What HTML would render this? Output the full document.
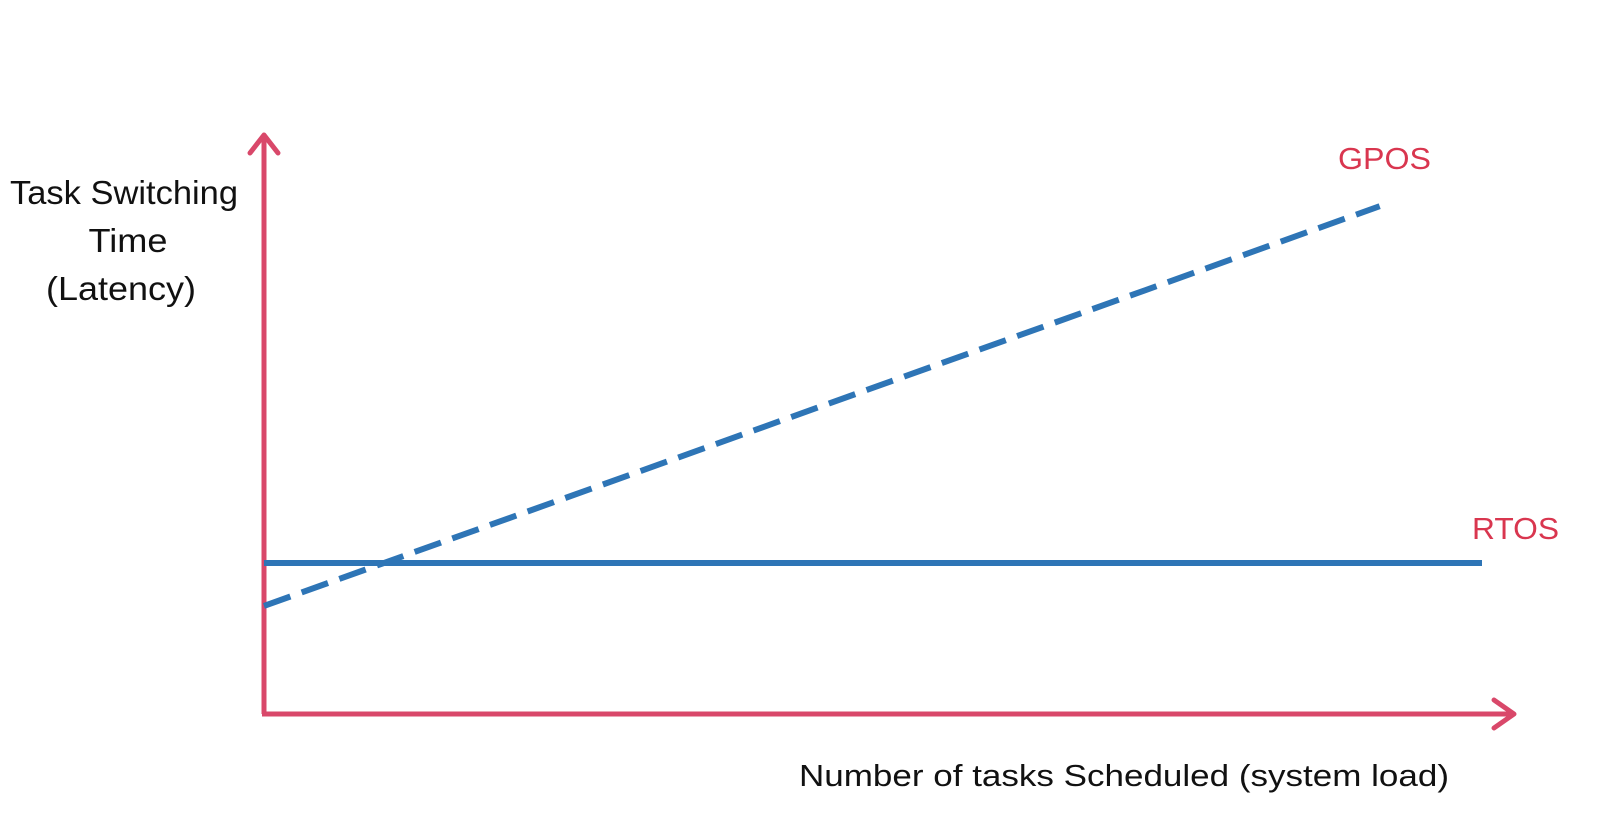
<!DOCTYPE html>
<html><head><meta charset="utf-8"><style>
html,body{margin:0;padding:0;background:#fff;}
svg{display:block;font-family:"Liberation Sans",sans-serif;}
</style></head><body>
<svg id="chart" width="1616" height="825" viewBox="0 0 1616 825">
<g id="axes">
<line x1="264" y1="714" x2="264" y2="135" stroke="#d9486a" stroke-width="5"/>
<polyline points="250,153 264,135 278,153" fill="none" stroke="#d9486a" stroke-width="5" stroke-linecap="round" stroke-linejoin="round"/>
<line x1="262" y1="714" x2="1514" y2="714" stroke="#d9486a" stroke-width="5"/>
<polyline points="1494,700 1514,714 1494,728" fill="none" stroke="#d9486a" stroke-width="5" stroke-linecap="round" stroke-linejoin="round"/>
</g>
<g id="series"></g>
<g font-size="33" fill="#111" text-anchor="middle">
<text x="124" y="204" textLength="228" lengthAdjust="spacingAndGlyphs">Task Switching</text>
<text x="128" y="252" textLength="79" lengthAdjust="spacingAndGlyphs">Time</text>
<text x="121" y="300" textLength="150" lengthAdjust="spacingAndGlyphs">(Latency)</text>
</g>
<text x="799" y="786" font-size="31" fill="#111" textLength="650" lengthAdjust="spacingAndGlyphs">Number of tasks Scheduled (system load)</text>
<text x="1338" y="169" font-size="31" fill="#d9364f" textLength="93" lengthAdjust="spacingAndGlyphs">GPOS</text>
<text x="1472" y="539" font-size="31" fill="#d9364f" textLength="87" lengthAdjust="spacingAndGlyphs">RTOS</text>
</svg>
<script>
const xValues = [0, 10];
const rtosValues = [2.6, 2.6];
const gposX = [0, 9.16];
const gposValues = [1.86, 8.74];
function xs(v){return 264 + v*121.8;}
function ys(v){return 714 - v*58.1;}
const g = document.getElementById('series');
const NS = 'http://www.w3.org/2000/svg';
const r = document.createElementNS(NS,'polyline');
r.setAttribute('points', xValues.map((x,i)=>xs(x)+','+ys(rtosValues[i])).join(' '));
r.setAttribute('fill','none');r.setAttribute('stroke','#2e75b6');r.setAttribute('stroke-width','6');


g.appendChild(r);
const p = document.createElementNS(NS,'polyline');
p.setAttribute('points', gposX.map((x,i)=>xs(x)+','+ys(gposValues[i])).join(' '));
p.setAttribute('fill','none');p.setAttribute('stroke','#2e75b6');p.setAttribute('stroke-width','6');
p.setAttribute('stroke-dasharray','28 12');


g.appendChild(p);
</script>
</body></html>
